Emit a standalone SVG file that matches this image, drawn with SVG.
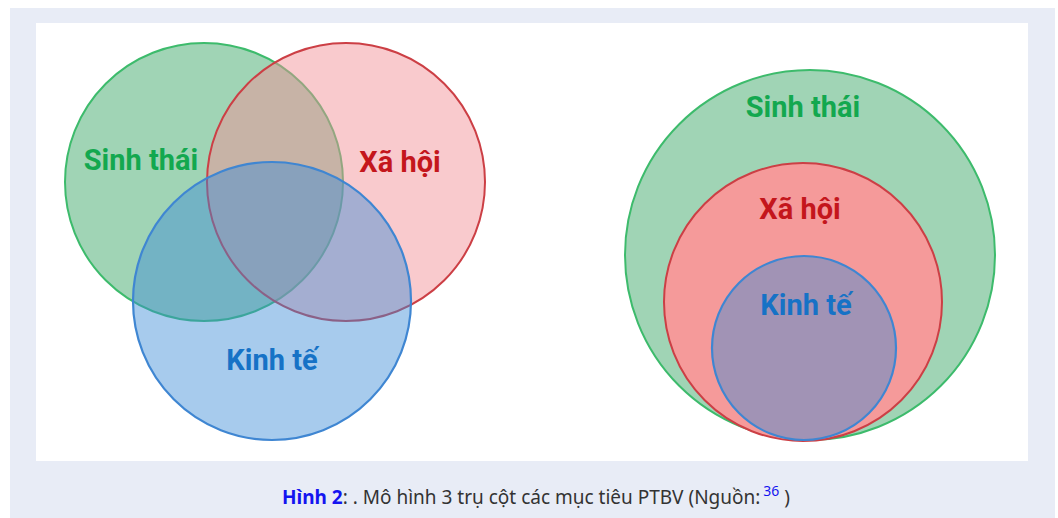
<svg xmlns="http://www.w3.org/2000/svg" width="1058" height="518" viewBox="0 0 1058 518">
  <style>
    .lbl { font-family: Roboto, "Noto Sans", "Liberation Sans", sans-serif; font-weight: 700; font-size: 29px; text-anchor: middle; }
    .eco { fill: #13a84f; }
    .soc { fill: #c4161c; }
    .ecn { fill: #1672c6; }
    .g { fill: rgb(44,160,91); fill-opacity: 0.45; stroke: #3dbb6c; stroke-width: 2; }
    .r { fill: rgb(242,144,151); fill-opacity: 0.48; stroke: #cc3f45; stroke-width: 2; }
    .b { fill: rgb(60,140,215); fill-opacity: 0.45; stroke: #3f86d2; stroke-width: 2.2; }
    .r2 { fill: #f59a9a; stroke: #cc3f45; stroke-width: 2; }
    .cap { font-family: "Noto Sans", "Open Sans", "Liberation Sans", sans-serif; font-size: 19px; fill: #333333; }
    .hl { fill: #1414f0; }
  </style>

  <!-- page background and figure panel -->
  <rect x="10" y="8" width="1045" height="510" fill="#e8ecf6"/>
  <rect x="36" y="23" width="992" height="438" fill="#ffffff"/>

  <!-- overlapping pillars -->
  <g id="venn">
    <g id="venn-ecology">
      <circle class="g" cx="204" cy="182" r="139"/>
    </g>
    <g id="venn-society">
      <circle class="r" cx="346" cy="182" r="139"/>
    </g>
    <g id="venn-economy">
      <circle class="b" cx="272" cy="301" r="139"/>
    </g>
    <text class="lbl eco" x="141" y="170">Sinh thái</text>
    <text class="lbl soc" x="400" y="172">Xã hội</text>
    <text class="lbl ecn" x="272" y="370">Kinh tế</text>
  </g>

  <!-- nested pillars -->
  <g id="nested">
    <g id="nested-ecology">
      <circle class="g" cx="810" cy="255" r="185"/>
      <text class="lbl eco" x="803" y="117">Sinh thái</text>
    </g>
    <g id="nested-society">
      <circle class="r2" cx="803" cy="302" r="139"/>
      <text class="lbl soc" x="800" y="219">Xã hội</text>
    </g>
    <g id="nested-economy">
      <circle class="b" cx="804" cy="348" r="92"/>
      <text class="lbl ecn" x="806" y="315">Kinh tế</text>
    </g>
  </g>

  <!-- caption -->
  <text class="cap" x="536" y="504" text-anchor="middle"><tspan class="hl" font-weight="700">Hình 2</tspan>: . Mô hình 3 trụ cột các mục tiêu PTBV (Nguồn:<tspan class="hl" font-size="14" dx="3" dy="-8">36</tspan><tspan dy="8"> )</tspan></text>
</svg>
